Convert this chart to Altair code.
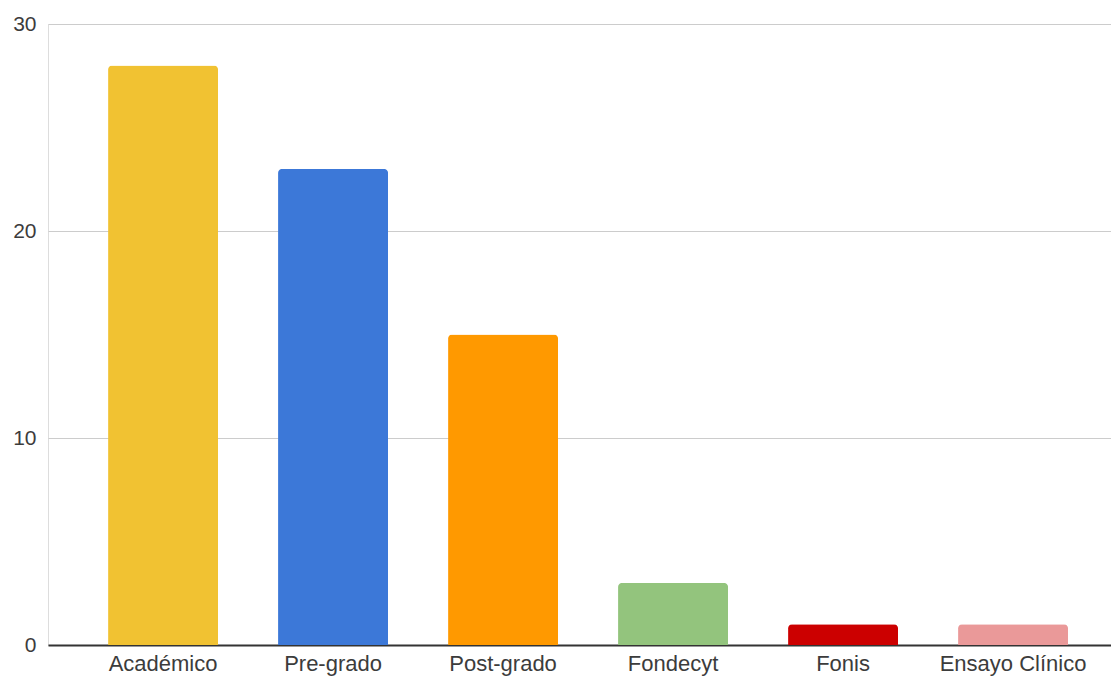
import altair as alt
import pandas as pd

categories = ["Académico", "Pre-grado", "Post-grado", "Fondecyt", "Fonis", "Ensayo Clínico"]
values = [28, 23, 15, 3, 1, 1]
colors = ["#F1C232", "#3C78D8", "#FF9900", "#93C47D", "#CC0000", "#EA9999"]

df = pd.DataFrame({"cat": categories, "val": values})

base = alt.Chart(df)

bars = base.mark_bar(cornerRadiusTopLeft=4, cornerRadiusTopRight=4).encode(
    x=alt.X("cat:N", sort=categories, title=None,
            scale=alt.Scale(paddingInner=0.353, paddingOuter=0.303, align=0.583),
            axis=alt.Axis(labelAngle=0, labelFont="Liberation Sans", labelFontSize=22,
                          labelColor="#3c3c3c", labelPadding=8, ticks=False,
                          domainColor="#333333", domainWidth=2)),
    y=alt.Y("val:Q", title=None,
            scale=alt.Scale(domain=[0, 30]),
            axis=alt.Axis(values=[0, 10, 20, 30], labelFont="Liberation Sans", labelFontSize=21,
                          labelColor="#3c3c3c", labelPadding=12, ticks=False, domain=False,
                          gridColor="#cccccc", gridWidth=1)),
    color=alt.Color("cat:N", sort=categories, legend=None,
                    scale=alt.Scale(domain=categories, range=colors)),
)

chart = bars.properties(
    width=1063, height=621,
    autosize=alt.AutoSizeParams(type="none"),
    padding={"left": 40, "top": 16, "right": 0, "bottom": 36},
).configure_view(stroke=None).configure(background="white")

chart.save("out.html", embed_options={"renderer": "svg", "actions": False})
